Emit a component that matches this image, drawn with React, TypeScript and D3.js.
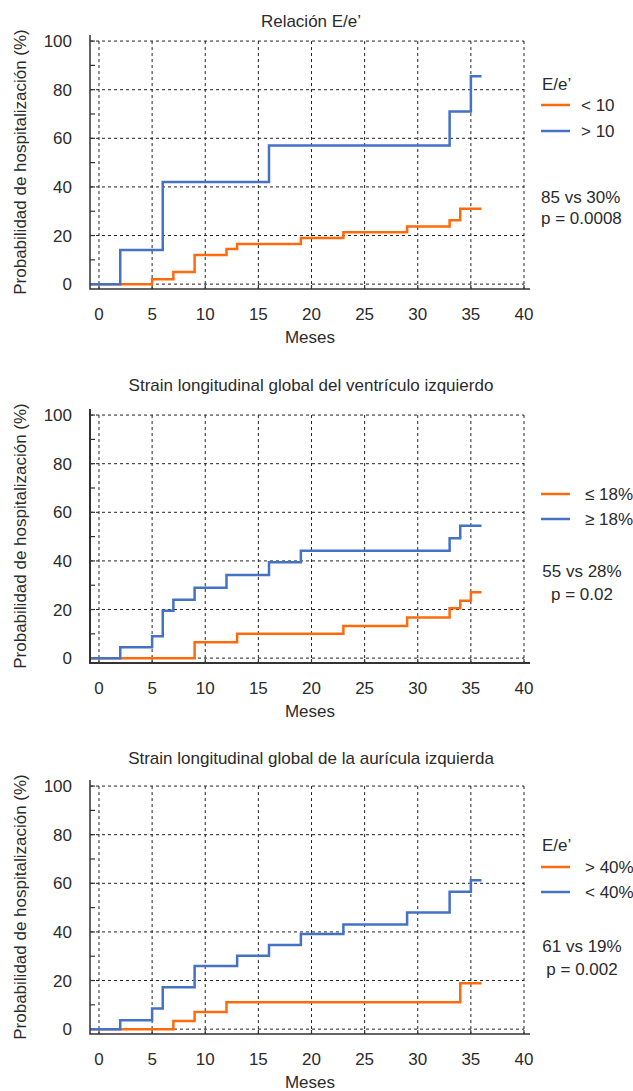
import React, { useRef, useEffect } from 'react';
import * as d3 from 'd3';

// eje x (meses) y eje y (probabilidad %)
const monthTicks = [0, 5, 10, 15, 20, 25, 30, 35, 40];
const probTicks = [0, 20, 40, 60, 80, 100];
const probMinorTicks = [10, 30, 50, 70, 90];

const titles = [
  'Relación E/e’',
  'Strain longitudinal global del ventrículo izquierdo',
  'Strain longitudinal global de la aurícula izquierda',
];
const legendHeads = ['E/e’', '', 'E/e’'];
const orangeLabels = ['< 10', '≤ 18%', '> 40%'];
const blueLabels = ['> 10', '≥ 18%', '< 40%'];
const statsLine1 = ['85 vs 30%', '55 vs 28%', '61 vs 19%'];
const statsLine2 = ['p = 0.0008', 'p = 0.02', 'p = 0.002'];

// curvas de Kaplan-Meier (tiempo del salto, valor después del salto)
const eeOrangeTimes = [0, 5, 7, 9, 12, 13, 19, 23, 29, 33, 34, 36];
const eeOrangeValues = [0, 2, 5, 12, 14.5, 16.5, 19, 21.3, 23.7, 26.3, 31, 31];
const eeBlueTimes = [0, 2, 6, 16, 33, 35, 36];
const eeBlueValues = [0, 14, 42, 57, 71, 85.5, 85.5];

const lvOrangeTimes = [0, 9, 13, 23, 29, 33, 34, 35, 36];
const lvOrangeValues = [0, 6.5, 10, 13.2, 16.7, 20.5, 23.6, 27.1, 27.1];
const lvBlueTimes = [0, 2, 5, 6, 7, 9, 12, 16, 19, 33, 34, 36];
const lvBlueValues = [0, 4.5, 9, 19.5, 24, 29, 34.2, 39.5, 44.2, 49.3, 54.5, 54.5];

const laOrangeTimes = [0, 7, 9, 12, 34, 36];
const laOrangeValues = [0, 3.3, 7.1, 11.1, 18.9, 18.9];
const laBlueTimes = [0, 2, 5, 6, 9, 13, 16, 19, 23, 29, 33, 35, 36];
const laBlueValues = [0, 3.7, 8.5, 17.2, 26, 30.2, 34.6, 39.1, 43.1, 48, 56.5, 61.3, 61.3];

const orangeSeries = [
  [eeOrangeTimes, eeOrangeValues],
  [lvOrangeTimes, lvOrangeValues],
  [laOrangeTimes, laOrangeValues],
];
const blueSeries = [
  [eeBlueTimes, eeBlueValues],
  [lvBlueTimes, lvBlueValues],
  [laBlueTimes, laBlueValues],
];

const ORANGE = '#ff6a0d';
const BLUE = '#4472c4';
const INK = '#2b2b2b';
const FONT = '"Liberation Sans", Arial, Helvetica, sans-serif';

// posiciones de cada panel
const panelTop = [0, 374, 745];
const titleY = [26.5, 16.7, 19.3];
const legendLayout = [
  { head: 90, orange: 105, blue: 131, textX: 581, s1: 203, s2: 224, statsX: 541, anchor: 'start' },
  { head: 0, orange: 120, blue: 145, textX: 585, s1: 203, s2: 226, statsX: 582, anchor: 'middle' },
  { head: 106, orange: 122, blue: 147, textX: 585, s1: 207, s2: 230, statsX: 582, anchor: 'middle' },
];

const KaplanMeierPanels = () => {
  const ref = useRef<SVGSVGElement | null>(null);

  useEffect(() => {
    if (!ref.current) return;
    const svg = d3.select(ref.current);
    svg.selectAll('*').remove();

    const x = d3.scaleLinear().domain([-0.847, 40.565]).range([90, 530]);
    const y = d3.scaleLinear().domain([-2, 102.5]).range([289, 35]);

    const line = d3.line<[number, number]>()
      .x(d => x(d[0]))
      .y(d => y(d[1]))
      .curve(d3.curveStepAfter);

    titles.forEach((title, i) => {
      const g = svg.append('g').attr('transform', `translate(0,${panelTop[i]})`);
      const lay = legendLayout[i];

      // titulo
      g.append('text')
        .attr('x', 311).attr('y', titleY[i])
        .attr('text-anchor', 'middle')
        .attr('font-size', 17).attr('fill', INK)
        .text(title);

      // rejilla punteada
      g.selectAll('.vgrid')
        .data(monthTicks)
        .enter().append('line')
        .attr('x1', d => x(d)).attr('x2', d => x(d))
        .attr('y1', y(100)).attr('y2', y.range()[0])
        .attr('stroke', '#222').attr('stroke-width', 1)
        .attr('stroke-dasharray', '3,3');

      g.selectAll('.hgrid')
        .data(probTicks)
        .enter().append('line')
        .attr('x1', x.range()[0]).attr('x2', x(40))
        .attr('y1', d => y(d)).attr('y2', d => y(d))
        .attr('stroke', '#222').attr('stroke-width', 1)
        .attr('stroke-dasharray', '3,3');

      // marcas del eje y
      g.selectAll('.ytick')
        .data(probTicks.concat(probMinorTicks))
        .enter().append('line')
        .attr('x1', x.range()[0]).attr('x2', x.range()[0] + 5)
        .attr('y1', d => y(d)).attr('y2', d => y(d))
        .attr('stroke', '#333').attr('stroke-width', 1.2);

      g.selectAll('.xtick')
        .data(monthTicks)
        .enter().append('line')
        .attr('x1', d => x(d)).attr('x2', d => x(d))
        .attr('y1', y.range()[0]).attr('y2', y.range()[0] - 4)
        .attr('stroke', '#333').attr('stroke-width', 1.2);

      // curvas
      const series = [
        { data: orangeSeries[i], color: ORANGE },
        { data: blueSeries[i], color: BLUE },
      ];
      series.forEach(s => {
        const [times, values] = s.data;
        const pts: [number, number][] = times.map((t, k) => [t, values[k]]);
        pts[0] = [x.domain()[0], values[0]];
        g.append('path')
          .attr('d', line(pts))
          .attr('fill', 'none')
          .attr('stroke', s.color)
          .attr('stroke-width', 2.5);
      });

      // ejes
      g.append('path')
        .attr('d', `M${x.range()[0]},${y.range()[1]}V${y.range()[0]}H${x.range()[1]}`)
        .attr('fill', 'none')
        .attr('stroke', '#333')
        .attr('stroke-width', i === 1 ? 2 : 1.5);

      g.selectAll('.ylab')
        .data(probTicks)
        .enter().append('text')
        .attr('x', 72).attr('y', d => y(d) + 6)
        .attr('text-anchor', 'end')
        .attr('font-size', 17).attr('fill', INK)
        .text(d => d);

      g.selectAll('.xlab')
        .data(monthTicks)
        .enter().append('text')
        .attr('x', d => x(d)).attr('y', 320)
        .attr('text-anchor', 'middle')
        .attr('font-size', 17).attr('fill', INK)
        .text(d => d);

      g.append('text')
        .attr('x', 310).attr('y', 342.5)
        .attr('text-anchor', 'middle')
        .attr('font-size', 17).attr('fill', INK)
        .text('Meses');

      g.append('text')
        .attr('transform', `translate(26,162) rotate(-90)`)
        .attr('text-anchor', 'middle')
        .attr('font-size', 17).attr('fill', INK)
        .text('Probabilidad de hospitalización (%)');

      // leyenda
      if (legendHeads[i]) {
        g.append('text')
          .attr('x', 542).attr('y', lay.head)
          .attr('font-size', 17).attr('fill', INK)
          .text(legendHeads[i]);
      }
      const items = [
        { label: orangeLabels[i], color: ORANGE, yy: lay.orange },
        { label: blueLabels[i], color: BLUE, yy: lay.blue },
      ];
      items.forEach(it => {
        g.append('line')
          .attr('x1', 541).attr('x2', 570)
          .attr('y1', it.yy).attr('y2', it.yy)
          .attr('stroke', it.color).attr('stroke-width', 2.5);
        g.append('text')
          .attr('x', lay.textX).attr('y', it.yy + 6)
          .attr('font-size', 17).attr('fill', INK)
          .text(it.label);
      });

      g.append('text')
        .attr('x', lay.statsX).attr('y', lay.s1)
        .attr('text-anchor', lay.anchor)
        .attr('font-size', 17).attr('fill', INK)
        .text(statsLine1[i]);
      g.append('text')
        .attr('x', lay.statsX).attr('y', lay.s2)
        .attr('text-anchor', lay.anchor)
        .attr('font-size', 17).attr('fill', INK)
        .text(statsLine2[i]);
    });
  }, []);

  return (
    <svg
      ref={ref}
      width={633}
      height={1091}
      style={{ position: 'absolute', left: 0, top: 0, background: '#fff', fontFamily: FONT }}
    />
  );
};

export default function App() {
  return <KaplanMeierPanels />;
}
